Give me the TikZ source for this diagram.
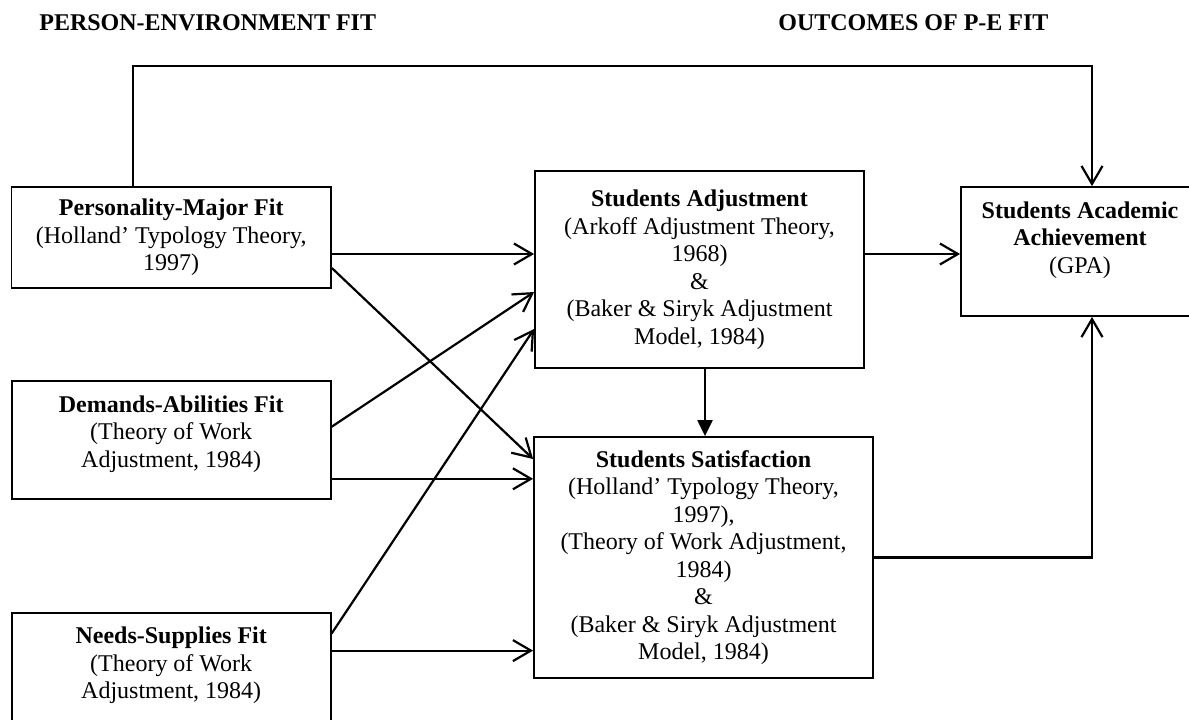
\documentclass[tikz,border=0pt]{standalone}
\usepackage{fontspec}
\setmainfont{Liberation Serif}
\usepackage{tikz}
\usetikzlibrary{arrows.meta, positioning}

\begin{document}
\begin{tikzpicture}[
    font=\fontsize{12}{13.75}\selectfont,
    fitbox/.style={rectangle, draw, line width=0.9pt, align=center, inner sep=2pt},
    arrow/.style={-{Straight Barb[length=9pt, width=10.5pt]}, line width=1.1pt},
    bigarrow/.style={-{Triangle[length=8pt, width=7.5pt]}, line width=1.1pt},
    heading/.style={font=\fontsize{12}{13.75}\selectfont\bfseries, anchor=west, inner sep=0pt}
]
% Frame of the page
\useasboundingbox (0,0) rectangle (594.5pt,-359.5pt);
\clip (0,0) rectangle (594.5pt,-359.5pt);

% Headings
\node[heading] (hpe) at (19.5pt,-11.5pt) {PERSON-ENVIRONMENT FIT};
\node[heading] (hout) at (389pt,-11.5pt) {OUTCOMES OF P-E FIT};

% P-E fit boxes on the left
\node[fitbox, minimum width=159.75pt, minimum height=50.3pt] (pm) at (85.6pt,-118.65pt)
    {\textbf{Personality-Major Fit}\\(Holland' Typology Theory,\\1997)};
\node[fitbox, minimum width=159.5pt, minimum height=59pt, text depth=8.5pt, below=45.7pt of pm] (da)
    {\textbf{Demands-Abilities Fit}\\(Theory of Work\\Adjustment, 1984)};
\node[fitbox, minimum width=159.5pt, minimum height=59pt, text depth=8.5pt, below=56pt of da] (ns)
    {\textbf{Needs-Supplies Fit}\\(Theory of Work\\Adjustment, 1984)};

% Outcome boxes
\node[fitbox, minimum width=164.5pt, minimum height=98.5pt] (sa) at (349.75pt,-134.75pt)
    {\textbf{Students Adjustment}\\(Arkoff Adjustment Theory,\\1968)\\\&\\(Baker \& Siryk Adjustment\\Model, 1984)};
\node[fitbox, minimum width=169.5pt, minimum height=120.5pt] (ss) at (351.75pt,-278.75pt)
    {\textbf{Students Satisfaction}\\(Holland' Typology Theory,\\1997),\\(Theory of Work Adjustment,\\1984)\\\&\\(Baker \& Siryk Adjustment\\Model, 1984)};
\node[fitbox, minimum width=119pt, minimum height=64.5pt, text depth=14pt] (saa) at (540pt,-125.75pt)
    {\textbf{Students Academic}\\\textbf{Achievement}\\(GPA)};

% Arrows from the fit boxes
\draw[arrow] ([xshift=-19.1pt]pm.north) -- ++(0,60pt) -| ([xshift=6pt]saa.north);
\draw[arrow] ([yshift=-8.35pt]pm.east) -- ([yshift=-8.35pt]pm.east -| sa.west);
\draw[arrow] ([yshift=-15.35pt]pm.east) -- ([yshift=49.25pt]ss.west);
\draw[arrow] ([yshift=6.5pt]da.east) -- ([yshift=-11.25pt]sa.west);
\draw[arrow] ([yshift=-19.5pt]da.east) -- ([yshift=-19.5pt]da.east -| ss.west);
\draw[arrow] ([yshift=19pt]ns.east) -- ([yshift=-29.75pt]sa.west);
\draw[arrow] ([yshift=10.5pt]ns.east) -- ([yshift=10.5pt]ns.east -| ss.west);

% Arrows between the outcomes
\draw[arrow] ([yshift=7.75pt]sa.east) -- ([yshift=7.75pt]sa.east -| saa.west);
\draw[bigarrow] ([xshift=2.75pt]sa.south) -- ([xshift=2.75pt]sa.south |- ss.north);
\draw[arrow] (ss.east) -| ([xshift=6pt]saa.south);
\end{tikzpicture}
\end{document}
